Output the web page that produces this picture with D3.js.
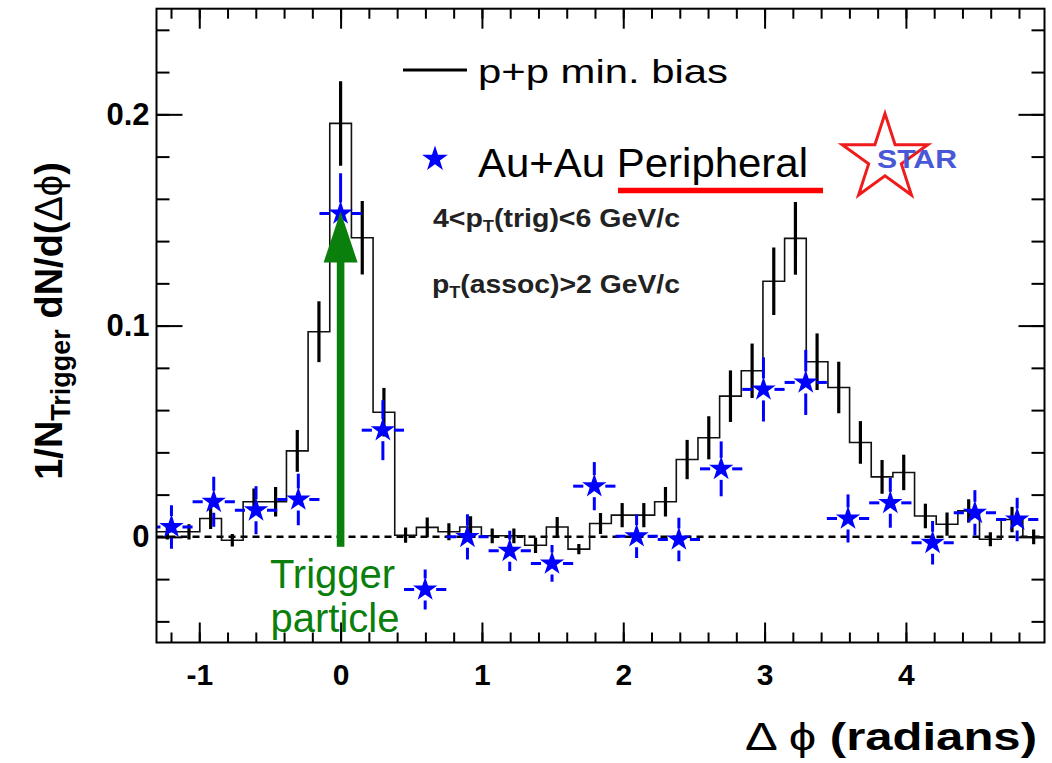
<!DOCTYPE html>
<html>
<head>
<meta charset="utf-8">
<script src="https://cdn.jsdelivr.net/npm/d3@7"></script>
<style>
  body { margin: 0; background: #fff; }
  svg text { font-family: "Liberation Sans", Arial, Helvetica, sans-serif; }
</style>
</head>
<body>
<div id="chart"></div>
<script>
// p+p min. bias histogram: 41 bins over 2pi, first bin centred at -8 * width
var ppBinWidth = 2 * Math.PI / 41,
    ppFirstBin = -8;
var ppValues = [0.0024, 0.0024, 0.0087, -0.0016, 0.0166, 0.0166, 0.0407, 0.0971,
    0.1957, 0.1416, 0.0590, 0.0008, 0.0045, 0.0024, 0.0047, 0.0005, 0.0005,
    -0.0040, 0.0047, -0.0058, 0.0063, 0.0103, 0.0103, 0.0166, 0.0366, 0.0469,
    0.0666, 0.0786, 0.1210, 0.1413, 0.0829, 0.0707, 0.0447, 0.0284, 0.0305,
    0.0099, 0.0060, 0.0123, -0.0011, 0.0082, 0.0000];
var ppErrors = [0.0036, 0.0036, 0.0050, 0.0030, 0.0063, 0.0070, 0.0099, 0.0144,
    0.0200, 0.0174, 0.0115, 0.0036, 0.0047, 0.0040, 0.0050, 0.0035, 0.0035,
    0.0036, 0.0047, 0.0024, 0.0050, 0.0057, 0.0057, 0.0070, 0.0093, 0.0102,
    0.0122, 0.0129, 0.0160, 0.0172, 0.0134, 0.0122, 0.0101, 0.0080, 0.0084,
    0.0058, 0.0055, 0.0055, 0.0033, 0.0060, 0.0035];

// Au+Au peripheral points: 21 bins over 2pi
var auBinWidth = 2 * Math.PI / 21,
    auFirstBin = -4;
var auValues = [0.0047, 0.0166, 0.0126, 0.0177, 0.1531, 0.0505, -0.0249, 0.0000,
    -0.0066, -0.0126, 0.0240, 0.0003, -0.0012, 0.0322, 0.0698, 0.0731, 0.0087,
    0.0161, -0.0028, 0.0114, 0.0082];
var auErrors = [0.0103, 0.0118, 0.0114, 0.0122, 0.0190, 0.0142, 0.0095, 0.0107,
    0.0095, 0.0087, 0.0114, 0.0103, 0.0103, 0.0130, 0.0152, 0.0154, 0.0114,
    0.0118, 0.0103, 0.0107, 0.0103];

var xTicks = [-1, 0, 1, 2, 3, 4];
var yTicks = [0, 0.1, 0.2];
var yDomain = [-0.05, 0.25];
var arrowFrom = -0.0047, arrowTo = 0.154;   // trigger arrow at dphi = 0

var width = 1052, height = 763;
var pLeft = 156.5, pRight = 1044.5, pTop = 8.7, pBottom = 642.5;
var green = "#0b7f0b";

var svg = d3.select("#chart").append("svg")
    .attr("width", width)
    .attr("height", height);

var x = d3.scaleLinear()
    .domain([(ppFirstBin - 0.5) * ppBinWidth, (ppFirstBin + ppValues.length - 0.5) * ppBinWidth])
    .range([pLeft, pRight]);
var y = d3.scaleLinear().domain(yDomain).range([pBottom, pTop]);

svg.append("clipPath").attr("id", "plot")
    .append("rect")
    .attr("x", pLeft).attr("y", pTop)
    .attr("width", pRight - pLeft).attr("height", pBottom - pTop);

// ---- ticks on all four sides
var xMinor = d3.range(-6, 25).map(function (i) { return i / 5; });
var yMinor = d3.range(-2, 13).map(function (i) { return i / 50; });

function ticks(axis, transform, size, values, labels) {
    var g = svg.append("g").attr("transform", transform)
        .call(axis.tickValues(values).tickSize(size).tickFormat(labels || ""));
    g.select(".domain").remove();
    g.selectAll("line").attr("stroke", "#000").attr("stroke-width", 2);
    return g;
}
ticks(d3.axisBottom(x), "translate(0," + pBottom + ")", -10, xMinor);
ticks(d3.axisTop(x), "translate(0," + pTop + ")", -10, xMinor);
ticks(d3.axisTop(x), "translate(0," + pTop + ")", -20, xTicks);
ticks(d3.axisLeft(y), "translate(" + pLeft + ",0)", -13, yMinor);
ticks(d3.axisRight(y), "translate(" + pRight + ",0)", -13, yMinor);
ticks(d3.axisRight(y), "translate(" + pRight + ",0)", -26, yTicks);

var xAx = ticks(d3.axisBottom(x).tickPadding(21), "translate(0," + pBottom + ")", -20, xTicks,
    function (d) { return String(d); });
xAx.attr("font-family", null).attr("font-size", null);
xAx.selectAll("text")
    .attr("font-size", 30).attr("font-weight", "bold").attr("fill", "#000");

var yAx = ticks(d3.axisLeft(y).tickPadding(7), "translate(" + pLeft + ",0)", -26, yTicks,
    function (d) { return d === 0 ? "0" : d.toFixed(1); });
yAx.attr("font-family", null).attr("font-size", null);
yAx.selectAll("text")
    .attr("font-size", 31).attr("font-weight", "bold").attr("fill", "#000");

// ---- data
var plot = svg.append("g").attr("clip-path", "url(#plot)");

// dashed zero line
plot.append("line")
    .attr("x1", pLeft).attr("x2", pRight)
    .attr("y1", y(0)).attr("y2", y(0))
    .attr("stroke", "#000").attr("stroke-width", 2.5)
    .attr("stroke-dasharray", "7,5");

var ppBins = ppValues.map(function (v, i) {
    return { c: (ppFirstBin + i) * ppBinWidth, v: v, e: ppErrors[i] };
});
var stepPts = [];
ppBins.forEach(function (b) {
    stepPts.push([b.c - ppBinWidth / 2, b.v]);
    stepPts.push([b.c + ppBinWidth / 2, b.v]);
});
var line = d3.line()
    .x(function (d) { return x(d[0]); })
    .y(function (d) { return y(d[1]); });

plot.append("path")
    .datum(stepPts)
    .attr("d", line)
    .attr("fill", "none")
    .attr("stroke", "#111")
    .attr("stroke-width", 1.6);

plot.selectAll(".pp-err")
    .data(ppBins)
    .enter().append("line")
    .attr("class", "pp-err")
    .attr("x1", function (d) { return x(d.c); })
    .attr("x2", function (d) { return x(d.c); })
    .attr("y1", function (d) { return y(d.v - d.e); })
    .attr("y2", function (d) { return y(d.v + d.e); })
    .attr("stroke", "#000")
    .attr("stroke-width", 3.2);

// Au+Au points with error bars that leave a gap around the marker
var auPts = auValues.map(function (v, i) {
    return { c: (auFirstBin + i) * auBinWidth, v: v, e: auErrors[i] };
});
var gap = 11;
var arms = [];
auPts.forEach(function (d) {
    var cx = x(d.c), cy = y(d.v);
    var hx = x(d.c + auBinWidth / 2) - cx;
    var vy = cy - y(d.v + d.e);
    if (hx > gap) {
        arms.push([cx - gap, cy, cx - hx, cy]);
        arms.push([cx + gap, cy, cx + hx, cy]);
    }
    if (vy > gap) {
        arms.push([cx, cy - gap, cx, cy - vy]);
        arms.push([cx, cy + gap, cx, cy + vy]);
    }
});
plot.selectAll(".au-err")
    .data(arms)
    .enter().append("line")
    .attr("class", "au-err")
    .attr("x1", function (d) { return d[0]; })
    .attr("y1", function (d) { return d[1]; })
    .attr("x2", function (d) { return d[2]; })
    .attr("y2", function (d) { return d[3]; })
    .attr("stroke", "#0000ff")
    .attr("stroke-width", 3);

var star = d3.symbol().type(d3.symbolStar).size(185);
plot.selectAll(".au")
    .data(auPts)
    .enter().append("path")
    .attr("class", "au")
    .attr("d", star)
    .attr("transform", function (d) { return "translate(" + x(d.c) + "," + y(d.v) + ")"; })
    .attr("fill", "#0000ff");

// trigger arrow
var ax = x(0), headLen = 51, headHalf = 17;
svg.append("rect")
    .attr("x", ax - 3.8).attr("width", 7.6)
    .attr("y", y(arrowTo) + headLen - 1)
    .attr("height", y(arrowFrom) - y(arrowTo) - headLen + 1)
    .attr("fill", green);
svg.append("path")
    .attr("d", "M" + ax + "," + y(arrowTo) +
        "L" + (ax + headHalf) + "," + (y(arrowTo) + headLen) +
        "L" + (ax - headHalf) + "," + (y(arrowTo) + headLen) + "Z")
    .attr("fill", green);

svg.append("text").attr("x", 332.5).attr("y", 588)
    .attr("text-anchor", "middle").attr("font-size", 40).attr("fill", green)
    .text("Trigger");
svg.append("text").attr("x", 335).attr("y", 632)
    .attr("text-anchor", "middle").attr("font-size", 40).attr("fill", green)
    .text("particle");

// frame
svg.append("rect")
    .attr("x", pLeft).attr("y", pTop)
    .attr("width", pRight - pLeft).attr("height", pBottom - pTop)
    .attr("fill", "none").attr("stroke", "#000").attr("stroke-width", 2);

// ---- legend and labels
svg.append("line")
    .attr("x1", 403).attr("x2", 467).attr("y1", 70).attr("y2", 70)
    .attr("stroke", "#000").attr("stroke-width", 3);
svg.append("text").attr("x", 478).attr("y", 83)
    .attr("font-size", 34).attr("textLength", 250).attr("lengthAdjust", "spacingAndGlyphs")
    .text("p+p min. bias");

svg.append("path")
    .attr("d", d3.symbol().type(d3.symbolStar).size(205))
    .attr("transform", "translate(435,159)")
    .attr("fill", "#0000ff");
svg.append("text").attr("x", 478).attr("y", 177)
    .attr("font-size", 40).attr("textLength", 330).attr("lengthAdjust", "spacingAndGlyphs")
    .text("Au+Au Peripheral");
svg.append("line")
    .attr("x1", 618).attr("x2", 823).attr("y1", 190.5).attr("y2", 190.5)
    .attr("stroke", "#ff0000").attr("stroke-width", 5.5);

var t1 = svg.append("text").attr("x", 433).attr("y", 227)
    .attr("font-size", 25).attr("font-weight", "bold").attr("fill", "#222")
    .attr("textLength", 247).attr("lengthAdjust", "spacingAndGlyphs");
t1.append("tspan").text("4<p");
t1.append("tspan").attr("font-size", 16).attr("dy", 5).text("T");
t1.append("tspan").attr("dy", -5).text("(trig)<6 GeV/c");

var t2 = svg.append("text").attr("x", 432).attr("y", 293)
    .attr("font-size", 25).attr("font-weight", "bold").attr("fill", "#222")
    .attr("textLength", 248).attr("lengthAdjust", "spacingAndGlyphs");
t2.append("tspan").text("p");
t2.append("tspan").attr("font-size", 16).attr("dy", 5).text("T");
t2.append("tspan").attr("dy", -5).text("(assoc)>2 GeV/c");

// STAR logo
svg.append("path")
    .attr("d", d3.symbol().type(d3.symbolStar).size(2273))
    .attr("transform", "translate(885,158.6)")
    .attr("fill", "none").attr("stroke", "#ee1c1c").attr("stroke-width", 3)
    .attr("stroke-linejoin", "miter");
svg.append("text").attr("x", 877).attr("y", 168)
    .attr("font-size", 26).attr("font-weight", "bold").attr("fill", "#4858d6")
    .attr("textLength", 80).attr("lengthAdjust", "spacingAndGlyphs")
    .text("STAR");

// axis titles
var xt = svg.append("text").attr("x", 745).attr("y", 750)
    .attr("font-size", 38)
    .attr("textLength", 292).attr("lengthAdjust", "spacingAndGlyphs");
xt.append("tspan").text("Δ ");
xt.append("tspan").text("ϕ ");
xt.append("tspan").attr("font-weight", "bold").text("(radians)");

var yt = svg.append("text")
    .attr("transform", "translate(62,321) rotate(-90)")
    .attr("text-anchor", "middle").attr("font-size", 38).attr("font-weight", "bold");
yt.append("tspan").text("1/N");
yt.append("tspan").attr("font-size", 27).attr("dy", 8).text("Trigger");
yt.append("tspan").attr("dy", -8).text(" dN/d(");
yt.append("tspan").attr("font-weight", "normal").text("Δϕ");
yt.append("tspan").text(")");
</script>
</body>
</html>
